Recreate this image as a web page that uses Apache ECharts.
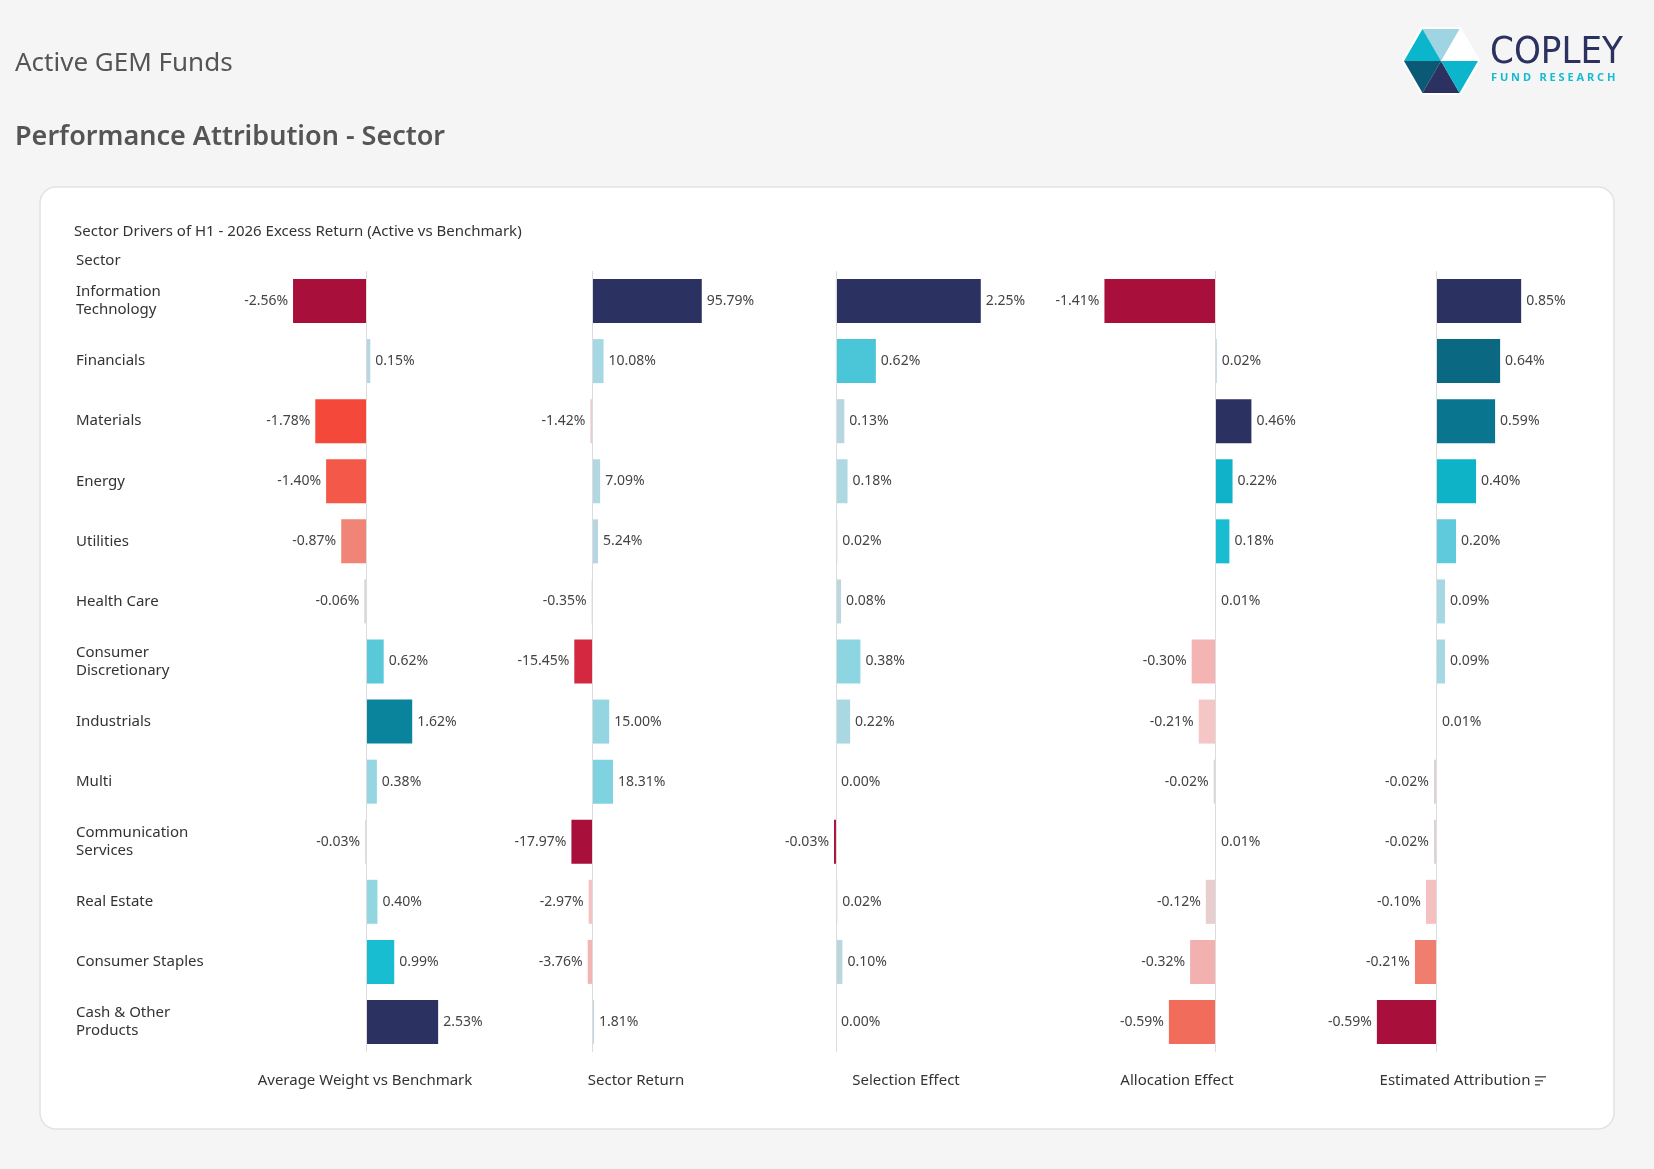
<!DOCTYPE html>
<html><head><meta charset="utf-8">
<script src="https://cdn.jsdelivr.net/npm/echarts@6/dist/echarts.min.js"></script>
<style>html,body{margin:0;background:#f5f5f5}#c{width:1654px;height:1169px}</style>
</head><body><div id="c"></div>
<script>
var sectors = ['Information\nTechnology', 'Financials', 'Materials', 'Energy', 'Utilities', 'Health Care',
  'Consumer\nDiscretionary', 'Industrials', 'Multi', 'Communication\nServices', 'Real Estate',
  'Consumer Staples', 'Cash & Other\nProducts'];
var avgWeight = [-2.56, 0.15, -1.78, -1.40, -0.87, -0.06, 0.62, 1.62, 0.38, -0.03, 0.40, 0.99, 2.53];
var sectorReturn = [95.79, 10.08, -1.42, 7.09, 5.24, -0.35, -15.45, 15.00, 18.31, -17.97, -2.97, -3.76, 1.81];
var selection = [2.25, 0.62, 0.13, 0.18, 0.02, 0.08, 0.38, 0.22, 0.00, -0.03, 0.02, 0.10, 0.00];
var allocation = [-1.41, 0.02, 0.46, 0.22, 0.18, 0.01, -0.30, -0.21, -0.02, 0.01, -0.12, -0.32, -0.59];
var estimated = [0.85, 0.64, 0.59, 0.40, 0.20, 0.09, 0.09, 0.01, -0.02, -0.02, -0.10, -0.21, -0.59];
var panelNames = ['Average Weight vs Benchmark', 'Sector Return', 'Selection Effect', 'Allocation Effect', 'Estimated Attribution'];

var panels = [
  {data: avgWeight, l: 250, r: 500, min: -4.07, max: 4.70, cx: 365},
  {data: sectorReturn, l: 500, r: 760, min: -80.3, max: 146.6, cx: 636},
  {data: selection, l: 760, r: 1040, min: -1.18, max: 3.17, cx: 906},
  {data: allocation, l: 1040, r: 1330, min: -2.23, max: 1.46, cx: 1177},
  {data: estimated, l: 1330, r: 1600, min: -1.058, max: 1.637, cx: 1455}
];

var posStops = [[0, '#c8d6de'], [0.1, '#a8d8e3'], [0.17, '#8ed5e2'], [0.25, '#55c8da'], [0.4, '#14bcd0'],
  [0.55, '#0aa8c0'], [0.65, '#0a7f98'], [0.8, '#0b5e7a'], [1, '#2b3160']];
var negStops = [[0, '#d8d8d8'], [0.15, '#f4c6c6'], [0.25, '#f2aaa8'], [0.35, '#f08070'], [0.45, '#f26352'],
  [0.7, '#f4473a'], [0.85, '#d62a3f'], [1, '#a80f3a']];

function hex(c) { return [1, 3, 5].map(function (i) { return parseInt(c.substr(i, 2), 16); }); }
function ramp(stops, t) {
  for (var i = 1; i < stops.length; i++) {
    if (t <= stops[i][0]) {
      var a = stops[i - 1], b = stops[i], f = (t - a[0]) / (b[0] - a[0]);
      var ca = hex(a[1]), cb = hex(b[1]);
      return 'rgb(' + ca.map(function (v, k) { return Math.round(v + (cb[k] - v) * f); }).join(',') + ')';
    }
  }
  return stops[stops.length - 1][1];
}

var fnt = 'Noto Sans';
var option = {
  backgroundColor: '#f5f5f5',
  textStyle: {fontFamily: fnt},
  grid: [], xAxis: [], yAxis: [], series: [],
  graphic: [
    {type: 'rect', shape: {x: 40, y: 187, width: 1574, height: 942, r: 16},
      style: {fill: '#fff', stroke: '#e2e2e2', lineWidth: 1.5}, z: -10},
    {type: 'text', left: 15, top: 51, style: {text: 'Active GEM Funds', fontSize: 26, fill: '#555', fontFamily: fnt}},
    {type: 'text', left: 15, top: 124, style: {text: 'Performance Attribution - Sector', fontSize: 27, fontWeight: 600, fill: '#555', fontFamily: fnt}},
    {type: 'text', left: 74, top: 224, style: {text: 'Sector Drivers of H1 - 2026 Excess Return (Active vs Benchmark)', fontSize: 15, fill: '#333', fontFamily: fnt}},
    {type: 'text', left: 76, top: 253, style: {text: 'Sector', fontSize: 15, fill: '#333', fontFamily: fnt}},
    {type: 'text', left: 1490, top: 34, style: {text: 'COPLEY', fontSize: 38, fill: '#2b3160', fontFamily: 'DejaVu Sans Condensed', fontWeight: 200}},
    {type: 'text', left: 1491, top: 72, style: {text: 'F U N D   R E S E A R C H', fontSize: 11, fontWeight: 'bold', fill: '#14bcd0', fontFamily: fnt}},
    {type: 'group', x: 1441, y: 61, children: [], z: 5},
    {type: 'group', x: 0, y: 0, children: [
      {type: 'rect', shape: {x: 1535, y: 1076, width: 11, height: 1.6}, style: {fill: '#666'}},
      {type: 'rect', shape: {x: 1535, y: 1080, width: 8, height: 1.6}, style: {fill: '#666'}},
      {type: 'rect', shape: {x: 1535, y: 1084, width: 5, height: 1.6}, style: {fill: '#666'}}
    ]}
  ]
};

// logo hexagon
var R = 37, H = R * Math.sqrt(3) / 2;
var v = [[R, 0], [R / 2, -H], [-R / 2, -H], [-R, 0], [-R / 2, H], [R / 2, H]];
var triCol = ['#ffffff', '#9fd5e3', '#0bb5cb', '#0b5a75', '#2b3160', '#0bb5cb'];
var logo = option.graphic[7].children;
logo.push({type: 'polygon', shape: {points: v}, style: {fill: '#fff', stroke: '#fff', lineWidth: 4}});
for (var k = 0; k < 6; k++) {
  logo.push({type: 'polygon', shape: {points: [[0, 0], v[k], v[(k + 1) % 6]]}, style: {fill: triCol[k]}});
}

panels.forEach(function (p, i) {
  var maxPos = Math.max.apply(null, p.data.concat([0]));
  var maxNeg = Math.max.apply(null, p.data.map(function (d) { return -d; }).concat([0]));
  option.grid.push({left: p.l, width: p.r - p.l, top: 271, height: 781});
  option.xAxis.push({type: 'value', gridIndex: i, min: p.min, max: p.max, show: false});
  option.yAxis.push({type: 'category', gridIndex: i, data: sectors, inverse: true,
    axisLine: {show: false}, axisTick: {show: false}, splitLine: {show: false},
    axisLabel: i === 0 ? {show: true, align: 'left', margin: 174, fontSize: 15, color: '#333', lineHeight: 18, fontFamily: fnt} : {show: false}});
  option.series.push({
    type: 'bar', xAxisIndex: i, yAxisIndex: i, barWidth: 44,
    data: p.data.map(function (d) {
      var col = d >= 0 ? ramp(posStops, maxPos ? d / maxPos : 0) : ramp(negStops, -d / maxNeg);
      return {value: d, itemStyle: {color: col},
        label: {position: d < 0 ? 'left' : 'right'}};
    }),
    label: {show: true, fontSize: 14, color: '#444', distance: 5, fontFamily: fnt,
      formatter: function (o) { return o.value.toFixed(2) + '%'; }},
    markLine: {silent: true, symbol: 'none', label: {show: false},
      lineStyle: {color: '#dcdcdc', type: 'solid', width: 1},
      data: [{xAxis: 0}]}
  });
  option.graphic.push({type: 'text', x: p.cx, y: 1073,
    style: {text: panelNames[i], fontSize: 15, fill: '#333', align: 'center', fontFamily: fnt}});
});

var chart = echarts.init(document.getElementById('c'));
chart.setOption(option);
</script></body></html>
